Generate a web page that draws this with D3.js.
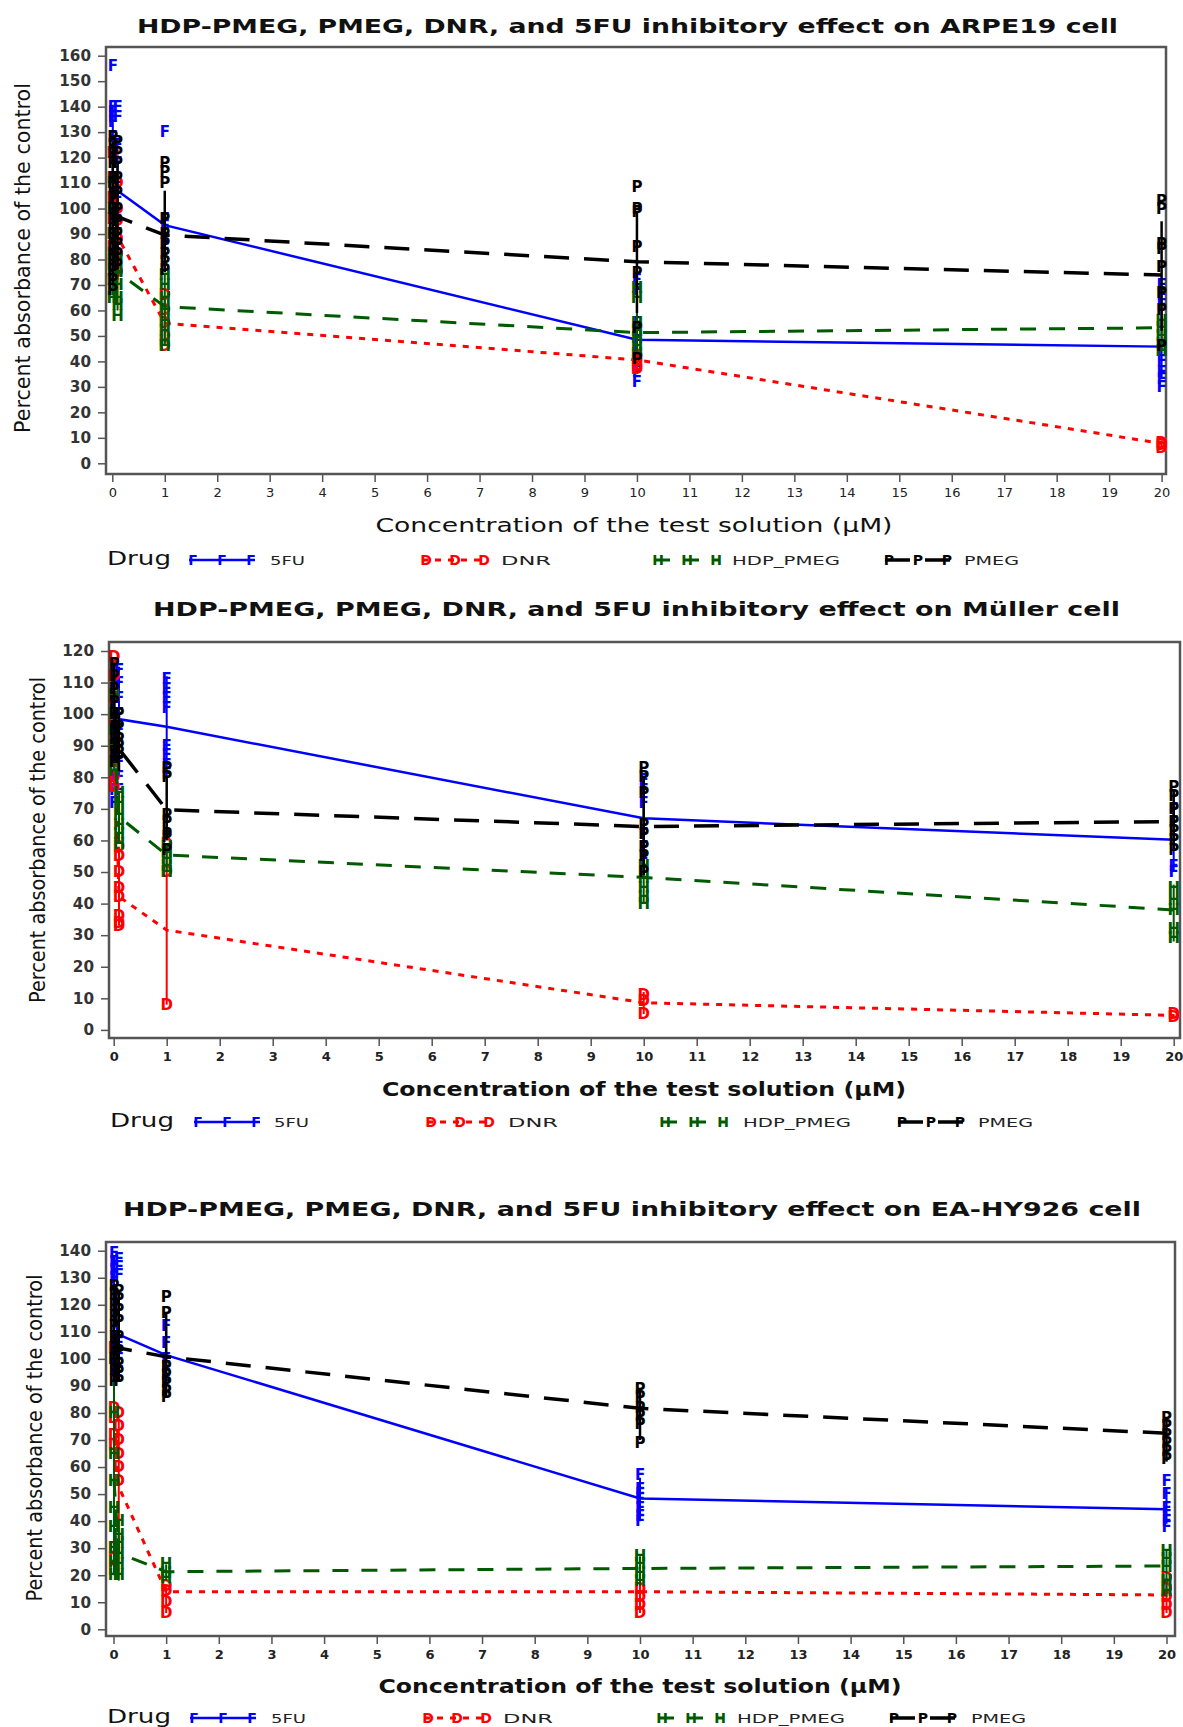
<!DOCTYPE html>
<head>
<meta charset="utf-8">
<style>
body { margin: 0; background: #fff; }
svg text { font-family: "DejaVu Sans", "Liberation Sans", sans-serif; }
.frame { fill: none; stroke: #555; stroke-width: 2.5px; }
.axis .domain { display: none; }
.axis line { stroke: #555; stroke-width: 1.5px; }
.mark { font-size: 15px; font-weight: bold; text-anchor: middle; dominant-baseline: central; }
</style>
</head>
<body>
<script src="https://d3js.org/d3.v7.min.js"></script>
<script>
// concentrations (uM) and drugs
var conc = [0.01, 0.1, 1, 10, 20];
var drugs = ["5FU", "DNR", "HDP_PMEG", "PMEG"];
var letters = ["F", "D", "H", "P"];
var colors = ["#0000ff", "#ff0000", "#005a00", "#000000"];
var dashes = [null, "6,7", "16,13", "25,15"];
var widths = [2.5, 3, 3, 3.5];
var xTicks = d3.range(0, 21);
var titles = [
  "HDP-PMEG, PMEG, DNR, and 5FU inhibitory effect on ARPE19 cell",
  "HDP-PMEG, PMEG, DNR, and 5FU inhibitory effect on M\u00fcller cell",
  "HDP-PMEG, PMEG, DNR, and 5FU inhibitory effect on EA-HY926 cell"
];
var yTicksArpe = d3.range(0, 161, 10);
var yTicksMuller = d3.range(0, 121, 10);
var yTicksEahy = d3.range(0, 141, 10);

// ---- ARPE19 ----  rows: 5FU, DNR, HDP_PMEG, PMEG ; columns: conc
var arpeMeans = [
  [112, 107, 93.5, 48.5, 45.8],
  [96, 89, 55, 40.6, 7.8],
  [80, 75, 61.5, 51.3, 53.2],
  [100, 96.8, 89.6, 79.1, 73.9]
];
var arpeBars = [
  [[100, 140], [88, 127], [85, 97], [35, 62], [33, 60]],
  [[75, 118], [72, 106], [46, 64], [37, 42], [6, 9]],
  [[66, 100], [60, 86], [47, 74], [43, 60], [45, 56]],
  [[70, 126], [76, 118], [75, 107], [59, 99], [52, 95]]
];
var arpePoints = [
  [[156, 140, 138, 136, 134, 128, 120, 112, 105, 98], [140, 136, 125, 118, 110, 104, 97, 90], [130, 96, 93, 90, 87, 84], [72, 68, 55, 52, 48, 44, 40, 36, 32], [70, 66, 62, 44, 40, 36, 33, 30]],
  [[122, 112, 104, 96, 90, 85, 80, 72], [110, 100, 95, 88, 82, 75], [66, 60, 55, 50, 46], [42, 40, 38, 37], [8, 7, 6]],
  [[110, 100, 90, 82, 78, 75, 72, 68, 65], [80, 75, 70, 65, 62, 58], [74, 70, 65, 60, 56, 52, 48, 46], [69, 65, 55, 52, 49, 46, 43], [56, 53, 50, 47, 44]],
  [[128, 125, 122, 118, 112, 108, 104, 100, 96, 92, 88, 84, 80, 76, 72, 68], [126, 122, 118, 112, 106, 100, 95, 90, 86, 82, 78], [118, 114.5, 110, 96, 90, 86, 82, 79, 76], [108.6, 100, 98.6, 85, 74.6, 53, 41], [103, 100, 86, 84, 77, 67, 60, 46]]
];

// ---- Muller ----
var mullerMeans = [
  [96, 98.4, 96, 67, 60.2],
  [95, 42.2, 31.6, 8.6, 4.6],
  [92, 67.5, 55.4, 48.3, 38],
  [100, 89, 69.7, 64.4, 66]
];
var mullerBars = [
  [[78, 114], [80, 115], [80, 112], [55, 79], [50, 70]],
  [[76, 118], [33, 58], [8, 59], [5, 12], [4, 5]],
  [[82, 106], [59, 75], [50, 58], [40, 54], [28, 46]],
  [[85, 116], [82, 100], [60, 80], [49, 80], [57, 76]]
];
var mullerPoints = [
  [[115, 110, 104, 98, 92, 86, 80, 76, 72], [114, 110, 105, 100, 95, 90, 85, 80, 76], [111, 108, 105, 102, 90, 87, 84, 81], [79, 76, 72, 62, 58, 54], [70, 66, 52, 50]],
  [[118, 112, 105, 98, 90, 85, 80, 77], [58, 55, 50, 45, 42, 36, 34, 33], [59, 50, 8], [11, 9, 5], [5, 4]],
  [[106, 100, 95, 90, 85, 82], [75, 72, 68, 65, 62, 59], [58, 56, 54, 52, 50], [52, 48, 45, 42, 40], [45, 41, 38, 32, 29]],
  [[116, 112, 108, 104, 100, 96, 92, 88, 85], [100, 96, 92, 90, 88, 86], [83, 80, 68, 66, 62, 61, 57], [83, 80, 75, 65, 62, 58, 55, 50], [77, 74, 70, 66, 63, 60, 57]]
];

// ---- EA-HY926 ----
var eahyMeans = [
  [115, 109, 101.4, 48.4, 44.4],
  [70, 52.7, 13.9, 13.9, 12.7],
  [55, 28.1, 21.3, 22.5, 23.4],
  [108, 104, 100.8, 81.7, 72.5]
];
var eahyBars = [
  [[95, 138], [94, 125], [92, 112], [40, 56], [39, 52]],
  [[22, 100], [30, 78], [6, 16], [6, 16], [6, 19]],
  [[20, 95], [18, 40], [18, 24], [16, 27], [12, 29]],
  [[92, 127], [92, 125], [86, 117], [70, 89], [62, 78]]
];
var eahyPoints = [
  [[139, 136, 133, 130, 108, 104, 100, 96], [137, 134, 131, 106, 100, 95], [112, 106, 100, 97, 94, 92], [57, 52, 50, 48, 45, 42, 40], [55, 50, 45, 42, 40, 38]],
  [[104, 82, 78, 72, 68, 30, 26, 22], [80, 75, 70, 65, 60, 55], [16, 14, 10, 6], [15, 12, 9, 6], [19, 15, 12, 9, 6]],
  [[100, 80, 65, 55, 45, 38, 30, 25, 20], [40, 35, 32, 28, 24, 20], [24, 21, 19], [27, 24, 21, 18], [29, 26, 23, 18, 14]],
  [[127, 124, 120, 116, 112, 108, 104, 100, 96, 92], [125, 122, 118, 114, 108, 103, 98, 95, 92], [123, 117, 97, 94, 91, 88, 86], [89, 86, 82, 79, 76, 69], [78, 75, 72, 69, 66, 63]]
];

// layout of the three stacked panels (pixels)
var panels = [
  { means: arpeMeans, bars: arpeBars, pts: arpePoints, yTicks: yTicksArpe, yMax: 160,
    xr: [112.3, 1161.6], yr: [463.3, 55.7], frame: [106, 47, 1166, 474],
    title: { x: 137, y: 33, w: 981 }, yLab: { x: 30, y: 258, w: 350 },
    xLab: { x: 634, y: 532, w: 517 }, bold: false,
    leg: { y: 565, drug: 107, sym: [189, 422, 654, 885], txt: [270, 501, 732, 964] } },
  { means: mullerMeans, bars: mullerBars, pts: mullerPoints, yTicks: yTicksMuller, yMax: 120,
    xr: [113.7, 1173.7], yr: [1029.9, 651], frame: [109, 642, 1180, 1038],
    title: { x: 153, y: 616, w: 967 }, yLab: { x: 45, y: 840, w: 326 },
    xLab: { x: 644, y: 1096, w: 524 }, bold: true,
    leg: { y: 1127, drug: 110, sym: [194, 427, 661, 898], txt: [274, 508, 743, 978] } },
  { means: eahyMeans, bars: eahyBars, pts: eahyPoints, yTicks: yTicksEahy, yMax: 140,
    xr: [113.5, 1166.5], yr: [1629.3, 1250.7], frame: [106, 1242, 1175, 1636],
    title: { x: 123, y: 1216, w: 1018 }, yLab: { x: 42, y: 1438, w: 327 },
    xLab: { x: 640, y: 1693, w: 523 }, bold: true,
    leg: { y: 1723, drug: 107, sym: [190, 424, 658, 890], txt: [271, 503, 737, 971] } }
];
var legTextW = [35, 50, 108, 55];

var svg = d3.select("body").append("svg")
    .attr("width", 1183)
    .attr("height", 1727);

panels.forEach(function (p, pi) {
  var x = d3.scaleLinear().domain([0, 20]).range(p.xr);
  var y = d3.scaleLinear().domain([0, p.yMax]).range(p.yr);
  var g = svg.append("g");

  // title
  g.append("text")
      .attr("x", p.title.x).attr("y", p.title.y)
      .attr("textLength", p.title.w).attr("lengthAdjust", "spacingAndGlyphs")
      .style("font-size", "20px").style("font-weight", "bold").style("fill", "#111")
      .text(titles[pi]);

  // y axis
  var ya = g.append("g").attr("class", "axis")
      .attr("transform", "translate(" + p.frame[0] + ",0)")
      .call(d3.axisLeft(y).tickValues(p.yTicks).tickSize(8).tickPadding(7));
  ya.selectAll("text")
      .style("font-size", "15px").style("font-weight", "bold").style("fill", "#333")
      .attr("textLength", function (d) { return String(d).length * 10.6; })
      .attr("lengthAdjust", "spacingAndGlyphs");

  // x axis
  var xa = g.append("g").attr("class", "axis")
      .attr("transform", "translate(0," + p.frame[3] + ")")
      .call(d3.axisBottom(x).tickValues(xTicks).tickSize(8).tickPadding(6));
  xa.selectAll("text")
      .style("font-size", "13px").style("font-weight", p.bold ? "bold" : "normal").style("fill", "#222");

  // frame
  g.append("rect").attr("class", "frame")
      .attr("x", p.frame[0]).attr("y", p.frame[1])
      .attr("width", p.frame[2] - p.frame[0]).attr("height", p.frame[3] - p.frame[1]);

  // axis titles
  g.append("text")
      .attr("transform", "translate(" + p.yLab.x + "," + p.yLab.y + ") rotate(-90)")
      .attr("text-anchor", "middle")
      .attr("textLength", p.yLab.w).attr("lengthAdjust", "spacingAndGlyphs")
      .style("font-size", "22px").style("fill", "#111")
      .text("Percent absorbance of the control");

  g.append("text")
      .attr("x", p.xLab.x).attr("y", p.xLab.y)
      .attr("text-anchor", "middle")
      .attr("textLength", p.xLab.w).attr("lengthAdjust", "spacingAndGlyphs")
      .style("font-size", "20px").style("font-weight", p.bold ? "bold" : "normal").style("fill", "#111")
      .text("Concentration of the test solution (\u00b5M)");

  // series: letters, mean line, sd bars
  var line = d3.line()
      .x(function (d, i) { return x(conc[i]); })
      .y(function (d) { return y(d); });

  drugs.forEach(function (dr, k) {
    var sg = g.append("g");
    p.pts[k].forEach(function (vals, ci) {
      sg.selectAll(null).data(vals).enter().append("text")
          .attr("class", "mark")
          .attr("x", x(conc[ci]))
          .attr("y", function (v) { return y(v); })
          .style("fill", colors[k])
          .text(letters[k]);
    });
    sg.append("path")
        .attr("d", line(p.means[k]))
        .style("fill", "none")
        .style("stroke", colors[k])
        .style("stroke-width", widths[k])
        .style("stroke-dasharray", dashes[k]);
    sg.selectAll("line.bar").data(p.bars[k]).enter().append("line")
        .attr("class", "bar")
        .attr("x1", function (d, i) { return x(conc[i]); })
        .attr("x2", function (d, i) { return x(conc[i]); })
        .attr("y1", function (d) { return y(d[0]); })
        .attr("y2", function (d) { return y(d[1]); })
        .style("stroke", colors[k])
        .style("stroke-width", k === 3 ? 2.5 : 2);
  });

  // legend
  var lg = g.append("g");
  lg.append("text")
      .attr("x", p.leg.drug).attr("y", p.leg.y)
      .attr("textLength", 64).attr("lengthAdjust", "spacingAndGlyphs")
      .style("font-size", "20px").style("fill", "#111")
      .text("Drug");
  drugs.forEach(function (dr, k) {
    var x1 = p.leg.sym[k], x2 = x1 + 66, ly = p.leg.y - 5;
    lg.append("line")
        .attr("x1", x1).attr("x2", x2).attr("y1", ly).attr("y2", ly)
        .style("stroke", colors[k]).style("stroke-width", widths[k])
        .style("stroke-dasharray", dashes[k]);
    [x1 + 4, (x1 + x2) / 2, x2 - 4].forEach(function (lx) {
      lg.append("text").attr("class", "mark")
          .attr("x", lx).attr("y", ly)
          .style("font-size", "14px").style("fill", colors[k])
          .text(letters[k]);
    });
    lg.append("text")
        .attr("x", p.leg.txt[k]).attr("y", p.leg.y)
        .attr("textLength", legTextW[k]).attr("lengthAdjust", "spacingAndGlyphs")
        .style("font-size", "13px").style("fill", "#222")
        .text(dr);
  });
});
</script>
</body>
</html>
